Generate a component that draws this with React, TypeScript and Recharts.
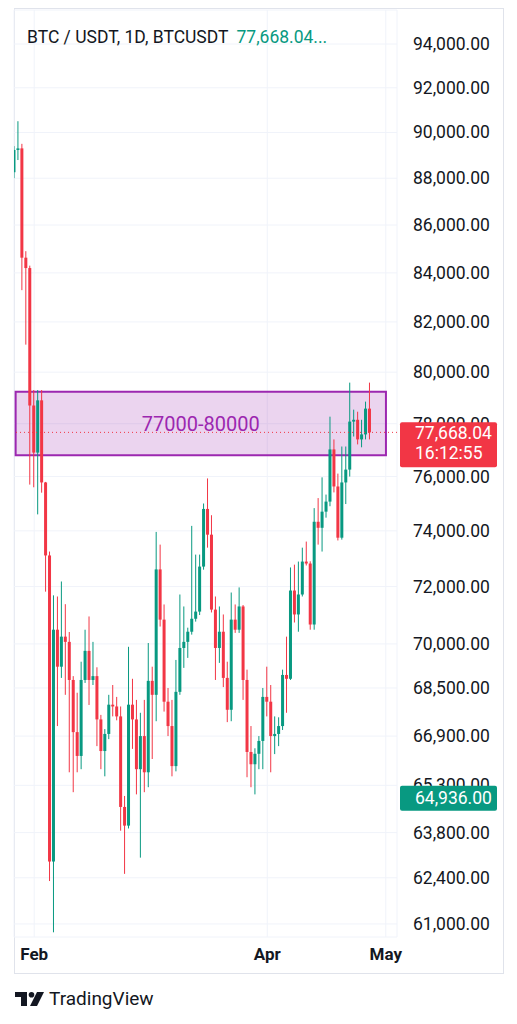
import {
  ComposedChart, Bar, XAxis, YAxis, CartesianGrid, ReferenceArea, ReferenceLine,
} from "recharts";

// daily candles, BTC/USDT, starting Jan 27 2026
const FIRST_DAY = "2026-01-27";
const ORIGIN_DAY = "2026-02-01";

const opens = [
  88260, 89230, 89300, 84630, 84200,
  78700, 76900, 78900, 75780, 73110, 62900, 70490, 69220, 70250, 70070, 68770, 67030, 66250, 68770,
  69760, 68770, 68900, 67450, 66410, 66970, 67940, 67880, 67550, 64610, 64020, 67940, 67450,
  65820, 66900, 65720, 68740, 68270, 72610, 70840, 68040, 67230, 65920, 68370, 69860, 70070, 70420,
  70870, 71120, 72710, 74800, 73860, 71190, 69860, 70420, 68840, 67770, 70840, 70490, 71300, 68770,
  66380, 65980, 66320,
  66740, 68200, 68040, 66900, 66970, 67230, 68940, 68810, 71860, 71020, 71720, 72890, 72820, 70670,
  74330, 74110, 74700, 75070, 77020, 75630, 73750, 75780, 76260, 78080, 78150, 77400, 77590, 78580,
];
const highs = [
  89400, 90500, 89500, 84900, 84300,
  79300, 79300, 79300, 75800, 73250, 71690, 71650, 72180, 71380, 70410, 68900, 68340, 69390, 70490,
  70950, 70070, 69200, 67600, 67130, 68270, 68600, 68200, 67880, 64960, 69900, 68810, 68100,
  67670, 68100, 70030, 69220, 73960, 73500, 71370, 68500, 68100, 69450, 71720, 71300, 70560, 74180,
  73140, 73140, 75000, 75930, 74570, 71650, 71300, 71020, 69390, 71790, 71370, 71970, 71350, 69120,
  67230, 66500, 66900,
  68500, 69220, 68600, 67550, 67520, 69120, 70250, 72680, 72780, 72890, 73390, 73610, 72900, 74830,
  75200, 75970, 75330, 78270, 77400, 76110, 77130, 77130, 79590, 78540, 78460, 78150, 78850, 79590,
];
const lows = [
  88000, 88790, 83290, 81090, 75700,
  75600, 74600, 75400, 71820, 62300, 60750, 67230, 68840, 68270, 65720, 65080, 65720, 65820, 68670,
  67930, 68600, 66570, 65820, 65590, 66800, 67550, 67420, 63860, 62520, 63930, 66480, 65010,
  63020, 65080, 65240, 66150, 67390, 70600, 67710, 66900, 65590, 65750, 68270, 69180, 69520, 70320,
  70770, 71000, 72600, 73390, 71090, 68770, 69350, 68530, 67360, 67390, 70380, 70380, 68100, 65560,
  65240, 65010, 65820,
  65820, 67550, 65720, 66310, 66570, 67100, 67670, 68770, 70740, 70420, 71650, 72750, 70490, 70490,
  73500, 73250, 74480, 74900, 75410, 73650, 73680, 74980, 76000, 77510, 77210, 77100, 77400, 77400,
];
const closes = [
  89230, 89300, 84630, 84200, 78700,
  76900, 78900, 75780, 73110, 62900, 70490, 69220, 70250, 70070, 68770, 67030, 66250, 68770, 69760,
  68770, 68900, 67450, 66410, 66970, 67940, 67880, 67550, 64610, 64020, 67940, 67450, 65820,
  66900, 65720, 68740, 68270, 72610, 70840, 68040, 67230, 65920, 68370, 69860, 70070, 70420, 70870,
  71120, 72710, 74800, 73860, 71190, 69860, 70420, 68840, 67770, 70840, 70490, 71300, 68770, 66380,
  65980, 66320, 66740,
  68200, 68040, 66900, 66970, 67230, 68940, 68810, 71860, 71020, 71720, 72890, 72820, 70670, 74330,
  74110, 74700, 75070, 77020, 75630, 73750, 75780, 76260, 78080, 78150, 77400, 77590, 78580, 77668.04,
];

const priceTicks = [
  94000, 92000, 90000, 88000, 86000, 84000, 82000, 80000, 78000, 76000,
  74000, 72000, 70000, 68500, 66900, 65300, 63800, 62400, 61000,
];
const monthDates = ["2026-02-01", "2026-04-01", "2026-05-01"];
const monthLabels = ["Feb", "Apr", "May"];

const lastPrice = 77668.04;
const countdown = "16:12:55";
const markPrice = 64936.0;
const zoneLow = 76800;
const zoneHigh = 79230;
const zoneFrom = "2026-01-27";
const zoneTo = "2026-05-01";
const zoneLabel = "77000-80000";

const GREEN = "#089981";
const RED = "#F23645";
const PURPLE = "#9c27b0";
const TEXT = "#131722";
const FONT = "Roboto, sans-serif";

const DAY = 86400000;
const dayOf = (d: string) => (Date.parse(d) - Date.parse(ORIGIN_DAY)) / DAY;

const X_DOMAIN = [-5.114, 91.848];
const Y_DOMAIN = [60610, 95584];

const data = opens.map((open, i) => ({
  t: dayOf(FIRST_DAY) + i,
  open,
  high: highs[i],
  low: lows[i],
  close: closes[i],
  range: [lows[i], highs[i]],
}));

const fmt = (v: number) =>
  v.toLocaleString("en-US", { minimumFractionDigits: 2, maximumFractionDigits: 2 });

const Candle = (props: any) => {
  const { x, y, width, height, payload } = props;
  if (!payload || !height) return null;
  const { open, close, high, low } = payload;
  const span = Math.log(high) - Math.log(low);
  const at = (v: number) => y + ((Math.log(high) - Math.log(v)) / span) * height;
  const color = close >= open ? GREEN : RED;
  const top = at(Math.max(open, close));
  const bottom = at(Math.min(open, close));
  const cx = x + width / 2;
  return (
    <g>
      <line x1={cx} x2={cx} y1={y} y2={y + height} stroke={color} strokeWidth={1} />
      <rect x={x} y={top} width={width} height={Math.max(1, bottom - top)} fill={color} />
    </g>
  );
};

const PriceTick = ({ y, payload }: any) => (
  <text x={413} y={y} dy={6} fontSize={17.5} fill={TEXT} fontFamily={FONT}>
    {fmt(payload.value)}
  </text>
);

const MonthTick = ({ x, payload }: any) => {
  const i = monthDates.findIndex(d => dayOf(d) === payload.value);
  return (
    <text x={x} y={960} textAnchor="middle" fontSize={17} fontWeight={700} fill={TEXT} fontFamily={FONT}>
      {monthLabels[i] ?? ""}
    </text>
  );
};

const LastBadge = ({ viewBox }: any) => {
  const x0 = viewBox.x + viewBox.width + 3;
  const y0 = viewBox.y;
  return (
    <g fontFamily={FONT} fontSize={17.5}>
      <rect x={x0} y={y0 - 10} width={97} height={45} rx={2} fill={RED} />
      <text x={x0 + 15} y={y0 + 7} fill="#fff">{fmt(lastPrice)}</text>
      <text x={x0 + 15} y={y0 + 27} fill="#fff">{countdown}</text>
    </g>
  );
};

const MarkBadge = ({ viewBox }: any) => {
  const x0 = viewBox.x + viewBox.width + 3;
  const y0 = viewBox.y;
  return (
    <g fontFamily={FONT} fontSize={17.5}>
      <rect x={x0} y={y0 - 11} width={97} height={25} rx={2} fill={GREEN} />
      <text x={x0 + 15} y={y0 + 7} fill="#fff">{fmt(markPrice)}</text>
    </g>
  );
};

const TvLogo = () => (
  <svg width={30} height={16} viewBox="0 0 30 16" style={{ position: "absolute", left: 15, top: 992 }}>
    <path d="M0 0 H12 V14 H6 V5 H0 Z" fill={TEXT} />
    <circle cx={16.5} cy={2.8} r={2.8} fill={TEXT} />
    <path d="M22 0 H29 L22 14 H15 Z" fill={TEXT} />
  </svg>
);

export default function App() {
  return (
    <div style={{ position: "absolute", left: 0, top: 0, width: 517, height: 1024, background: "#fff", fontFamily: FONT }}>
      <div style={{
        position: "absolute", left: 14, top: 8, width: 490, height: 966,
        border: "1px solid #e0e3eb", boxSizing: "border-box",
      }} />
      <ComposedChart
        width={517}
        height={975}
        data={data}
        margin={{ top: 10, right: 0, left: 14, bottom: 0 }}
        style={{ position: "absolute", left: 0, top: 0 }}
      >
        <CartesianGrid stroke="#f0f3fa" />
        <XAxis
          dataKey="t"
          type="number"
          domain={X_DOMAIN}
          allowDataOverflow
          ticks={monthDates.map(dayOf)}
          interval={0}
          height={38}
          axisLine={false}
          tickLine={false}
          tick={<MonthTick />}
        />
        <YAxis
          orientation="right"
          scale="log"
          domain={Y_DOMAIN}
          allowDataOverflow
          ticks={priceTicks}
          interval={0}
          width={120}
          axisLine={false}
          tickLine={false}
          tick={<PriceTick />}
        />
        <Bar dataKey="range" barSize={3} shape={<Candle />} isAnimationActive={false} />
        <ReferenceArea
          x1={dayOf(zoneFrom) + 0.3}
          x2={dayOf(zoneTo) + 0.05}
          y1={zoneLow}
          y2={zoneHigh}
          stroke={PURPLE}
          strokeWidth={2}
          fill={PURPLE}
          fillOpacity={0.2}
          label={{ value: zoneLabel, position: "center", fill: PURPLE, fontSize: 20, fontFamily: FONT }}
        />
        <ReferenceLine y={lastPrice} stroke={RED} strokeDasharray="1 3" />
      </ComposedChart>

      {/* price badges on top of the axis labels */}
      <ComposedChart
        width={517}
        height={975}
        data={data}
        margin={{ top: 10, right: 120, left: 14, bottom: 38 }}
        style={{ position: "absolute", left: 0, top: 0, pointerEvents: "none" }}
      >
        <XAxis dataKey="t" type="number" domain={X_DOMAIN} allowDataOverflow hide />
        <YAxis scale="log" domain={Y_DOMAIN} allowDataOverflow hide />
        <ReferenceLine y={lastPrice} stroke="none" strokeOpacity={0} label={<LastBadge />} />
        <ReferenceLine y={markPrice} stroke="none" strokeOpacity={0} label={<MarkBadge />} />
      </ComposedChart>

      <div style={{ position: "absolute", left: 27, top: 27, fontSize: 17.5, color: TEXT, whiteSpace: "nowrap" }}>
        BTC / USDT, 1D, BTCUSDT <span style={{ color: GREEN, marginLeft: 4 }}>77,668.04...</span>
      </div>
      <TvLogo />
      <div style={{ position: "absolute", left: 49, top: 987, fontSize: 19, color: TEXT }}>TradingView</div>
    </div>
  );
}
